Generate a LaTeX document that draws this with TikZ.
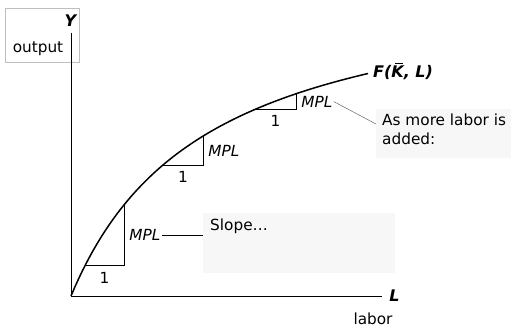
\documentclass[tikz,border=0pt]{standalone}
\usepackage{fontspec}
\setmainfont{DejaVu Sans}
\usetikzlibrary{positioning}
\definecolor{boxgray}{gray}{0.97}
\pgfmathdeclarefunction{outp}{1}{\pgfmathparse{324*(#1/(#1+135.5))}}

\begin{document}
\begin{tikzpicture}[x=1pt,y=-1pt,
    txt/.style={font=\fontsize{15.3}{19}\selectfont, inner sep=1pt},
    mpl/.style={font=\fontsize{15.3}{19}\selectfont\itshape, inner sep=1pt},
    axis label/.style={font=\fontsize{16}{19}\selectfont\bfseries\itshape, inner sep=1pt},
    note/.style={fill=boxgray, anchor=north west, inner sep=0pt}]
    \useasboundingbox (0,0) rectangle (511,329);

    % output box and axis labels
    \node[draw=black!25, minimum width=74pt, minimum height=54pt, inner sep=0pt] (outbox) at (42,35) {};
    \node[axis label] (ylab) at (70.5,21) {Y};
    \node[txt] (out) at (38,49) {output};

    % axes
    \coordinate (O) at (71,296);
    \coordinate (ytop) at (71,33);
    \coordinate (xend) at (382,296);
    \draw[line width=1pt] (ytop) -- (O) -- (xend);
    \node[axis label] (llab) at (394.5,296) {L};
    \node[txt] (labor) at (373,319) {labor};

    % production function
    \draw[line width=1.5pt, shift={(O)}] plot[domain=0:297, samples=80] (\x,{-outp(\x)});
    \coordinate (fend) at (368,{296-outp(297)});
    \node[axis label, anchor=west] (flab) at (372,71)
        {F(K\llap{\rule[13.5pt]{8pt}{1.2pt}\kern0.5pt}, L)};

    % slope triangles
    \foreach \i/\xa/\xb in {1/85/124, 2/163/203, 3/255/296} {
        \coordinate (a\i) at (\xa,{296-outp(\xa-71)});
        \coordinate (b\i) at (\xb,{296-outp(\xb-71)});
        \draw[line width=0.8pt] (a\i) -| node[txt, pos=0.25, below=5pt] (one\i) {1}
            node[mpl, pos=0.75, right=4pt] (mpl\i) {MPL} (b\i);
    }

    % notes
    \node[note, minimum width=192pt, minimum height=60pt] (slope) at (203,213) {};
    \node[txt, anchor=north west] (slopetxt) at ([xshift=6pt,yshift=-5pt]slope.north west) {Slope\dots};
    \node[note, minimum width=135pt, minimum height=49pt] (more) at (376,109) {};
    \node[txt, anchor=north west, align=left] (moretxt) at ([xshift=5pt,yshift=-4pt]more.north west) {As more labor is\\added:};

    % leader lines
    \draw[line width=0.8pt] (mpl1.east) -- (mpl1.east -| slope.west);
    \draw[black!60, line width=0.5pt] (mpl3.east) -- ([yshift=-15pt]more.north west);
\end{tikzpicture}
\end{document}
